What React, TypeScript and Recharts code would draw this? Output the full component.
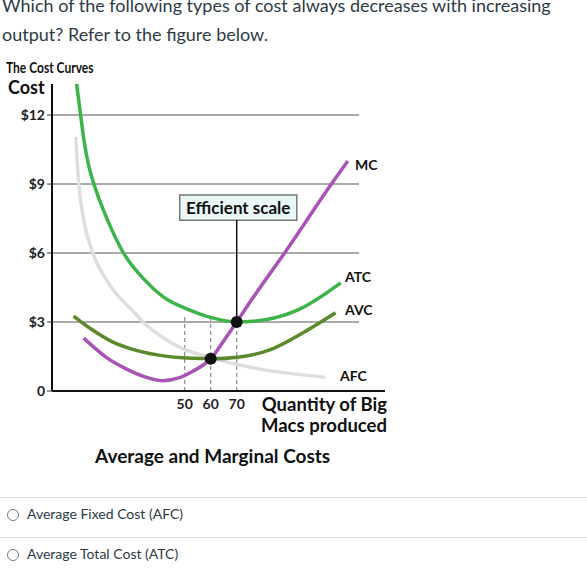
import React from 'react';
import {
  LineChart, Line, XAxis, YAxis, ReferenceLine, ReferenceDot, ReferenceArea,
} from 'recharts';

// ---- data ----
const atcQty = [8.4, 10, 11.5, 13, 15.4, 20.5, 26.5, 34.6, 41.6, 52, 60, 70, 81, 94, 110];
const atcCost = [13.4, 12, 10.75, 9.85, 8.9, 7.4, 6, 4.83, 4.1, 3.52, 3.2, 3.0, 3.1, 3.55, 4.7];

const avcQty = [7.3, 14.6, 22, 27.6, 40, 53, 60, 71, 83, 95, 108];
const avcCost = [3.26, 2.65, 2.15, 1.9, 1.56, 1.42, 1.4, 1.48, 1.8, 2.5, 3.4];

const afcQty = [8.1, 9.3, 11.2, 14.7, 19.9, 30.8, 34, 40, 49, 60, 79, 104];
const afcCost = [11.05, 9, 7.43, 6, 4.83, 3.39, 3.0, 2.45, 1.85, 1.45, 0.95, 0.6];

const mcQty = [11.2, 14.6, 20, 27.7, 35, 41.5, 48, 53, 57, 60, 65, 70, 75, 89, 107, 112.7];
const mcCost = [2.3, 1.95, 1.45, 0.95, 0.6, 0.45, 0.58, 0.85, 1.12, 1.4, 2.18, 3.0, 3.85, 6.1, 9.1, 10.0];

const costTicks = [0, 3, 6, 9, 12];
const gridCosts = [3, 6, 9, 12];
const qtyTicks = [50, 60, 70];

const efficientQty = 70;
const efficientCost = 3.0;
const avcMinQty = 60;
const avcMinCost = 1.4;

const zip = (qs: number[], vs: number[]) => qs.map((q, i) => ({ q, v: vs[i] }));
const atcData = zip(atcQty, atcCost);
const avcData = zip(avcQty, avcCost);
const afcData = zip(afcQty, afcCost);
const mcData = zip(mcQty, mcCost);

const chartFont = 'Lato, "Open Sans", sans-serif';
const textColor = '#2d3b45';

const abs = (s: React.CSSProperties): React.CSSProperties => ({
  position: 'absolute', margin: 0, whiteSpace: 'nowrap', lineHeight: 1, ...s,
});

export default function App() {
  return (
    <div style={{ position: 'absolute', left: 0, top: 0, width: 587, height: 573, background: '#fff', overflow: 'hidden', fontFamily: chartFont }}>
      <div style={abs({ left: 2, top: -9, fontSize: 18, color: textColor, fontFamily: 'Lato, sans-serif', lineHeight: '29px' })}>
        Which of the following types of cost always decreases with increasing<br />
        output? Refer to the figure below.
      </div>

      <LineChart
        width={587}
        height={573}
        margin={{ top: 84, right: 202, bottom: 152, left: 0 }}
        style={{ position: 'absolute', left: 0, top: 0 }}
      >
        <XAxis
          type="number"
          dataKey="q"
          domain={[-1, 127]}
          allowDataOverflow
          ticks={qtyTicks}
          tickLine={false}
          axisLine={{ stroke: '#111', strokeWidth: 2 }}
          tick={{ fill: '#222', fontSize: 14, fontWeight: 700, fontFamily: chartFont }}
          height={30}
          interval={0}
        />
        <YAxis
          type="number"
          domain={[0, 13.35]}
          allowDataOverflow
          ticks={costTicks}
          tickFormatter={(v: number) => (v === 0 ? '0' : '$' + v)}
          axisLine={{ stroke: '#111', strokeWidth: 2 }}
          tickLine={{ stroke: '#333', strokeWidth: 1 }}
          tickSize={5}
          tickMargin={2}
          tick={{ fill: '#222', fontSize: 14, fontWeight: 700, fontFamily: chartFont }}
          width={52}
          interval={0}
        />
        {gridCosts.map((c) => (
          <ReferenceLine
            key={'g' + c}
            segment={[{ x: -1, y: c }, { x: 117, y: c }]}
            stroke="#aaaaaa"
            strokeWidth={2}
            ifOverflow="visible"
          />
        ))}
        {qtyTicks.map((q) => (
          <ReferenceLine
            key={'d' + q}
            segment={[{ x: q, y: 0 }, { x: q, y: 3.35 }]}
            stroke="#8a8a8a"
            strokeWidth={1.2}
            strokeDasharray="4 3"
          />
        ))}
        <ReferenceLine
          segment={[{ x: efficientQty, y: efficientCost }, { x: efficientQty, y: 7.43 }]}
          stroke="#111"
          strokeWidth={1.5}
        />
        <ReferenceArea
          x1={48.1}
          x2={93.1}
          y1={7.43}
          y2={8.52}
          fill="#e9f7f6"
          fillOpacity={1}
          stroke="#777"
          strokeWidth={1.5}
          ifOverflow="visible"
          label={{ value: 'Efficient scale', position: 'center', fill: '#111', fontSize: 17, fontWeight: 700, fontFamily: chartFont }}
        />
        <Line data={afcData} dataKey="v" type="monotone" stroke="#dedede" strokeWidth={3.5} dot={false} isAnimationActive={false} />
        <Line data={atcData} dataKey="v" type="monotone" stroke="#3cb44a" strokeWidth={3.5} dot={false} isAnimationActive={false} />
        <Line data={avcData} dataKey="v" type="monotone" stroke="#5a8a2c" strokeWidth={3.5} dot={false} isAnimationActive={false} />
        <Line data={mcData} dataKey="v" type="monotone" stroke="#a855b5" strokeWidth={3.5} dot={false} isAnimationActive={false} />
        <ReferenceDot x={efficientQty} y={efficientCost} r={6} fill="#111" stroke="none" />
        <ReferenceDot x={avcMinQty} y={avcMinCost} r={6} fill="#111" stroke="none" />
      </LineChart>

      <div style={abs({ left: 6, top: 60, fontSize: 15, fontWeight: 700, color: '#111', transform: 'scaleX(0.8)', transformOrigin: 'left' })}>The Cost Curves</div>
      <div style={abs({ left: 8, top: 78, fontSize: 18, fontWeight: 700, color: '#111' })}>Cost</div>

      <div style={abs({ left: 355, top: 158, fontSize: 14, fontWeight: 700, color: '#111' })}>MC</div>
      <div style={abs({ left: 345, top: 270, fontSize: 14, fontWeight: 700, color: '#111' })}>ATC</div>
      <div style={abs({ left: 345, top: 303, fontSize: 14, fontWeight: 700, color: '#111' })}>AVC</div>
      <div style={abs({ left: 340, top: 369, fontSize: 14, fontWeight: 700, color: '#111' })}>AFC</div>

      <div style={abs({ right: 200, top: 395, fontSize: 18.5, fontWeight: 700, color: '#111', textAlign: 'right', lineHeight: '18px' })}>Quantity of Big</div>
      <div style={abs({ right: 200, top: 416, fontSize: 18.5, fontWeight: 700, color: '#111', textAlign: 'right', lineHeight: '18px' })}>Macs produced</div>
      <div style={abs({ left: 95, top: 446, fontSize: 19, fontWeight: 700, color: '#111' })}>Average and Marginal Costs</div>

      <div style={{ position: 'absolute', left: 0, top: 497, width: 587, height: 1, background: '#dddddd' }} />
      <div style={{ position: 'absolute', left: 0, top: 537, width: 587, height: 1, background: '#dddddd' }} />

      {[{ y: 515, t: 'Average Fixed Cost (AFC)' }, { y: 555, t: 'Average Total Cost (ATC)' }].map((o) => (
        <React.Fragment key={o.t}>
          <div style={{ position: 'absolute', left: 7, top: o.y - 6, width: 10, height: 10, borderRadius: '50%', border: '1px solid #777', background: '#fff' }} />
          <div style={abs({ left: 27, top: o.y - 8, fontSize: 14, color: textColor, fontFamily: 'Lato, sans-serif' })}>{o.t}</div>
        </React.Fragment>
      ))}
    </div>
  );
}
